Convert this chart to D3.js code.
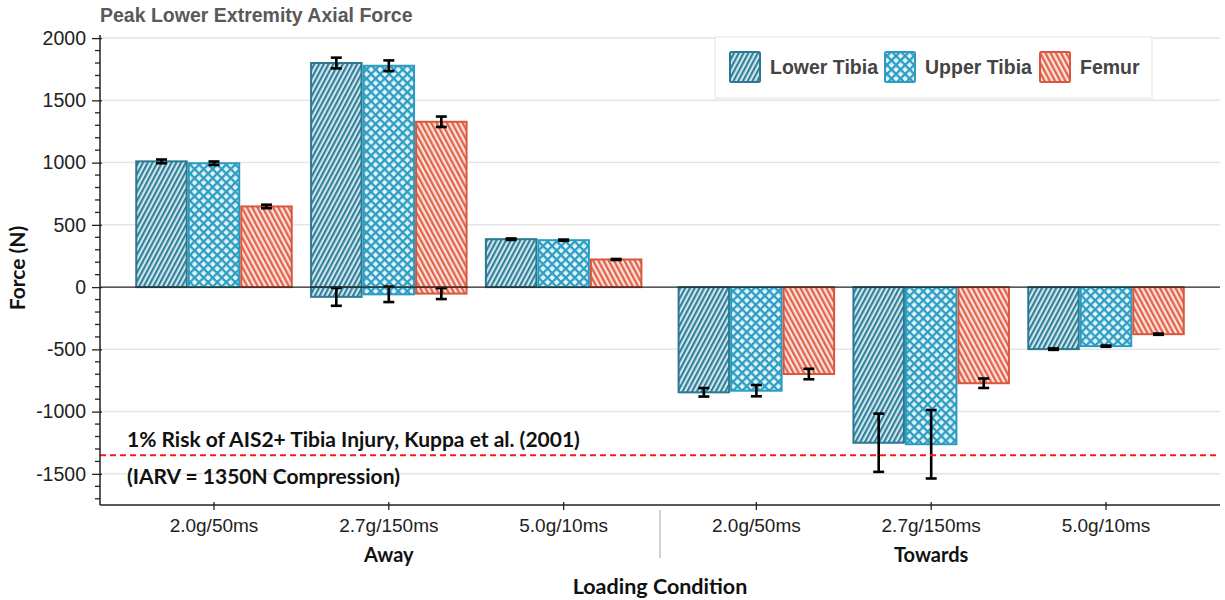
<!DOCTYPE html>
<html>
<head>
<meta charset="utf-8">
<script src="https://cdn.jsdelivr.net/npm/d3@7"></script>
<style>
  html, body { margin: 0; padding: 0; background: #fff; }
  svg { display: block; }
</style>
</head>
<body>
<svg id="chart" width="1225" height="600"></svg>
<script>
// ---- data ----
const directions = ["Away", "Towards"];
const conditions = ["2.0g/50ms", "2.7g/150ms", "5.0g/10ms"];
const seriesNames = ["Lower Tibia", "Upper Tibia", "Femur"];

// Peak force per condition, ordered Away (3 conditions) then Towards (3 conditions)
const lowerTibiaPeak = [1010, 1800, 385, -845, -1250, -498];
const lowerTibiaErr  = [15, 43, 6, 34, 234, 6];
const upperTibiaPeak = [995, 1778, 377, -832, -1262, -474];
const upperTibiaErr  = [14, 43, 5, 45, 275, 5];
const femurPeak      = [648, 1328, 222, -698, -772, -378];
const femurErr       = [14, 42, 4, 42, 38, 5];

// Opposite-sign peak (Away 2.7g/150ms shows a compressive peak too)
const lowerTibiaOpposite    = [0, -78, 0, 0, 0, 0];
const lowerTibiaOppositeErr = [0, 72, 0, 0, 0, 0];
const upperTibiaOpposite    = [0, -58, 0, 0, 0, 0];
const upperTibiaOppositeErr = [0, 62, 0, 0, 0, 0];
const femurOpposite         = [0, -52, 0, 0, 0, 0];
const femurOppositeErr      = [0, 44, 0, 0, 0, 0];

const yTicks = [-1500, -1000, -500, 0, 500, 1000, 1500, 2000];
const injuryThreshold = -1350;

// ---- layout ----
const svg = d3.select("#chart");
const plotLeft = 100, plotRight = 1220, plotTop = 35, plotBottom = 505;

const y = d3.scaleLinear().domain([-1750, 2025]).range([plotBottom, plotTop]);
const xDir = d3.scaleBand().domain(directions).range([plotLeft, plotRight])
  .paddingInner(0.033).paddingOuter(0.049);
const xCond = d3.scaleBand().domain(conditions).range([0, xDir.bandwidth()]);
const xSeries = d3.scaleBand().domain(seriesNames).range([0, xCond.bandwidth()])
  .paddingInner(0).paddingOuter(0.165);

// ---- hatch patterns ----
const defs = svg.append("defs");
function stripePattern(id, bg, fg, angle, w) {
  const p = defs.append("pattern").attr("id", id)
    .attr("patternUnits", "userSpaceOnUse")
    .attr("width", w).attr("height", 10)
    .attr("patternTransform", `rotate(${angle})`);
  p.append("rect").attr("width", w).attr("height", 10).attr("fill", bg);
  p.append("rect").attr("width", w * 0.5).attr("height", 10).attr("fill", fg);
}
stripePattern("hatch-lower", "#d3e7ee", "#2f7f99", 28, 4.2);
stripePattern("hatch-femur", "#fbe4de", "#e2624a", -28, 4.6);
{
  const s = 6.4;
  const p = defs.append("pattern").attr("id", "hatch-upper")
    .attr("patternUnits", "userSpaceOnUse")
    .attr("width", s).attr("height", s)
    .attr("patternTransform", "rotate(45)");
  p.append("rect").attr("width", s).attr("height", s).attr("fill", "#e6f4f9");
  p.append("rect").attr("width", s).attr("height", 2.3).attr("fill", "#2c9ec3");
  p.append("rect").attr("width", 2.3).attr("height", s).attr("fill", "#2c9ec3");
}

const seriesStyle = {
  "Lower Tibia": { fill: "url(#hatch-lower)", stroke: "#2a7891" },
  "Upper Tibia": { fill: "url(#hatch-upper)", stroke: "#2b9cc0" },
  "Femur":       { fill: "url(#hatch-femur)", stroke: "#d9573e" }
};

// ---- gridlines ----
svg.append("g").selectAll("line").data(yTicks.filter(d => d !== 0)).join("line")
  .attr("x1", plotLeft).attr("x2", plotRight)
  .attr("y1", d => y(d)).attr("y2", d => y(d))
  .attr("stroke", "#e5e5e5").attr("stroke-width", 1.5);

// ---- title ----
svg.append("text").attr("x", plotLeft).attr("y", 22)
  .attr("font-family", "Liberation Sans, Arial, sans-serif")
  .attr("font-weight", "bold").attr("font-size", 19.5).attr("fill", "#595959")
  .text("Peak Lower Extremity Axial Force");

// ---- bars ----
const bars = [];
const seriesData = {
  "Lower Tibia": [lowerTibiaPeak, lowerTibiaErr, lowerTibiaOpposite, lowerTibiaOppositeErr],
  "Upper Tibia": [upperTibiaPeak, upperTibiaErr, upperTibiaOpposite, upperTibiaOppositeErr],
  "Femur":       [femurPeak, femurErr, femurOpposite, femurOppositeErr]
};
directions.forEach((dir, di) => {
  conditions.forEach((cond, ci) => {
    const i = di * conditions.length + ci;
    seriesNames.forEach(s => {
      const [pk, er, op, oe] = seriesData[s];
      const x0 = xDir(dir) + xCond(cond) + xSeries(s);
      bars.push({ s, x0, v: pk[i], e: er[i] });
      if (op[i] !== 0) bars.push({ s, x0, v: op[i], e: oe[i] });
    });
  });
});

svg.append("g").selectAll("rect").data(bars).join("rect")
  .attr("x", d => d.x0 + 1)
  .attr("width", xSeries.bandwidth() - 2)
  .attr("y", d => Math.min(y(0), y(d.v)))
  .attr("height", d => Math.abs(y(d.v) - y(0)))
  .attr("fill", d => seriesStyle[d.s].fill)
  .attr("stroke", d => seriesStyle[d.s].stroke)
  .attr("stroke-width", 2);

// ---- error bars ----
const eg = svg.append("g").attr("stroke", "#000").attr("stroke-width", 2.6);
bars.forEach(d => {
  const cx = d.x0 + xSeries.bandwidth() / 2;
  const y1 = y(d.v - d.e), y2 = y(d.v + d.e);
  eg.append("line").attr("x1", cx).attr("x2", cx).attr("y1", y1).attr("y2", y2);
  eg.append("line").attr("x1", cx - 5.5).attr("x2", cx + 5.5).attr("y1", y1).attr("y2", y1);
  eg.append("line").attr("x1", cx - 5.5).attr("x2", cx + 5.5).attr("y1", y2).attr("y2", y2);
});

// ---- zero line ----
svg.append("line").attr("x1", plotLeft).attr("x2", plotRight)
  .attr("y1", y(0)).attr("y2", y(0))
  .attr("stroke", "#222").attr("stroke-width", 1.3);

// ---- injury threshold ----
svg.append("line").attr("x1", plotLeft).attr("x2", plotRight)
  .attr("y1", y(injuryThreshold)).attr("y2", y(injuryThreshold))
  .attr("stroke", "#ee1c1c").attr("stroke-width", 2)
  .attr("stroke-dasharray", "6,4");
const note = svg.append("g")
  .attr("font-family", "Lato, 'Open Sans', sans-serif")
  .attr("font-weight", "bold").attr("font-size", 21).attr("fill", "#111");
note.append("text").attr("x", 127).attr("y", y(injuryThreshold) - 8)
  .text("1% Risk of AIS2+ Tibia Injury, Kuppa et al. (2001)");
note.append("text").attr("x", 127).attr("y", y(injuryThreshold) + 29)
  .text("(IARV = 1350N Compression)");

// ---- y axis ----
const yAxis = svg.append("g").attr("transform", `translate(${plotLeft},0)`)
  .call(d3.axisLeft(y).tickValues(yTicks).tickSize(8).tickPadding(6).tickFormat(d => String(d)));
yAxis.select(".domain").remove();
yAxis.selectAll(".tick line").attr("x1", 2).attr("stroke", "#222").attr("stroke-width", 1.3);
yAxis.selectAll(".tick text")
  .attr("font-family", "Liberation Sans, Arial, sans-serif")
  .attr("font-size", 19.5).attr("fill", "#222");
svg.append("g").selectAll("line")
  .data(d3.range(-1700, 2001, 100).filter(v => v % 500 !== 0)).join("line")
  .attr("x1", plotLeft - 5).attr("x2", plotLeft)
  .attr("y1", d => y(d)).attr("y2", d => y(d))
  .attr("stroke", "#222").attr("stroke-width", 1.3);
svg.append("line").attr("x1", plotLeft).attr("x2", plotLeft)
  .attr("y1", plotTop).attr("y2", plotBottom).attr("stroke", "#222").attr("stroke-width", 1.5);

svg.append("text")
  .attr("transform", "translate(25,268) rotate(-90)")
  .attr("text-anchor", "middle")
  .attr("font-family", "Lato, 'Open Sans', sans-serif")
  .attr("font-weight", "bold").attr("font-size", 21).attr("fill", "#111")
  .text("Force (N)");

// ---- x axis ----
svg.append("line").attr("x1", plotLeft).attr("x2", plotRight)
  .attr("y1", plotBottom).attr("y2", plotBottom).attr("stroke", "#222").attr("stroke-width", 1.5);
directions.forEach(dir => {
  const g = svg.append("g").attr("transform", `translate(${xDir(dir)},${plotBottom})`);
  g.call(d3.axisBottom(xCond).tickSize(5).tickPadding(9));
  g.select(".domain").remove();
  g.selectAll(".tick line").attr("y1", -3).attr("stroke", "#222").attr("stroke-width", 1.3);
  g.selectAll(".tick text")
    .attr("font-family", "Liberation Sans, Arial, sans-serif")
    .attr("font-size", 19).attr("fill", "#222");
  svg.append("text").attr("x", xDir(dir) + xDir.bandwidth() / 2).attr("y", 562)
    .attr("text-anchor", "middle")
    .attr("font-family", "Lato, 'Open Sans', sans-serif")
    .attr("font-weight", "bold").attr("font-size", 20).attr("fill", "#111")
    .text(dir);
});
// divider between direction groups
const divX = (xDir("Away") + xDir.bandwidth() + xDir("Towards")) / 2;
svg.append("line").attr("x1", divX).attr("x2", divX)
  .attr("y1", 510).attr("y2", 558).attr("stroke", "#d3d3d3").attr("stroke-width", 2);

svg.append("text").attr("x", 660).attr("y", 594)
  .attr("text-anchor", "middle")
  .attr("font-family", "Lato, 'Open Sans', sans-serif")
  .attr("font-weight", "bold").attr("font-size", 21.5).attr("fill", "#111")
  .text("Loading Condition");

// ---- legend ----
const legend = svg.append("g");
legend.append("rect").attr("x", 715).attr("y", 37).attr("width", 437).attr("height", 61)
  .attr("fill", "#fff").attr("stroke", "#e8e8e8").attr("stroke-width", 1.2);
const legendX = [730, 885, 1040];
seriesNames.forEach((s, i) => {
  legend.append("rect").attr("x", legendX[i]).attr("y", 52).attr("width", 30).attr("height", 30)
    .attr("rx", 1.5)
    .attr("fill", seriesStyle[s].fill).attr("stroke", seriesStyle[s].stroke).attr("stroke-width", 2);
  legend.append("text").attr("x", legendX[i] + 40).attr("y", 74)
    .attr("font-family", "Liberation Sans, Arial, sans-serif")
    .attr("font-weight", "bold").attr("font-size", 19.5).attr("fill", "#444")
    .text(s);
});
</script>
</body>
</html>
